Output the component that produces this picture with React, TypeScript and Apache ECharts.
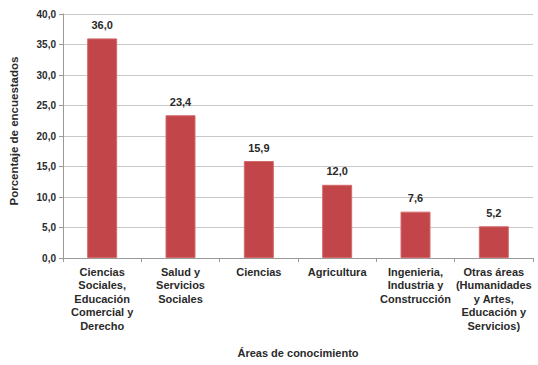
import React, { useEffect, useRef } from "react";
import * as echarts from "echarts";

const categories = [
  "Ciencias\nSociales,\nEducación\nComercial y\nDerecho",
  "Salud y\nServicios\nSociales",
  "Ciencias",
  "Agricultura",
  "Ingenieria,\nIndustria y\nConstrucción",
  "Otras áreas\n(Humanidades\ny Artes,\nEducación y\nServicios)",
];
const values = [36.0, 23.4, 15.9, 12.0, 7.6, 5.2];

const fmt = (v: number) => v.toFixed(1).replace(".", ",");

export default function App() {
  const ref = useRef<HTMLDivElement>(null);
  useEffect(() => {
    if (!ref.current) return;
    const chart = echarts.init(ref.current, null, { renderer: "svg" });
    const font = "Liberation Sans, Arial, sans-serif";
    chart.setOption({
      animation: false,
      textStyle: { fontFamily: font },
      grid: { left: 62, right: 5, top: 14, bottom: 107 },
      xAxis: {
        type: "category",
        data: categories,
        axisLine: { lineStyle: { color: "#9a9a9a" } },
        axisTick: { show: true, lineStyle: { color: "#9a9a9a" }, length: 4 },
        axisLabel: {
          interval: 0,
          color: "#2a2a2a",
          fontSize: 11,
          fontWeight: "bold",
          lineHeight: 13.5,
          margin: 7,
          fontFamily: font,
        },
        name: "Áreas de conocimiento",
        nameLocation: "middle",
        nameGap: 89,
        nameTextStyle: { color: "#2a2a2a", fontSize: 11, fontWeight: "bold", fontFamily: font },
      },
      yAxis: {
        type: "value",
        min: 0,
        max: 40,
        interval: 5,
        axisLine: { show: true, lineStyle: { color: "#9a9a9a" } },
        axisTick: { show: true, lineStyle: { color: "#9a9a9a" }, length: 4 },
        splitLine: { lineStyle: { color: "#c8c8c8" } },
        axisLabel: {
          formatter: (v: number) => fmt(v),
          color: "#2a2a2a",
          fontSize: 10,
          fontWeight: "bold",
          margin: 7,
          fontFamily: font,
        },
        name: "Porcentaje de encuestados",
        nameLocation: "middle",
        nameGap: 43,
        nameRotate: 90,
        nameTextStyle: {
          color: "#2a2a2a",
          fontSize: 11.5,
          fontWeight: "bold",
          fontFamily: font,
          padding: [0, 0, 0, 10],
        },
      },
      series: [
        {
          type: "bar",
          data: values,
          barWidth: 30,
          itemStyle: { color: "#c2454a", borderColor: "#d46a6a", borderWidth: 1 },
          label: {
            show: true,
            position: "top",
            distance: 8,
            formatter: (p: any) => fmt(p.value),
            color: "#2a2a2a",
            fontSize: 11,
            fontWeight: "bold",
            fontFamily: font,
          },
        },
      ],
    });
    return () => chart.dispose();
  }, []);
  return <div ref={ref} style={{ width: 538, height: 365, position: "absolute", left: 0, top: 0 }} />;
}
